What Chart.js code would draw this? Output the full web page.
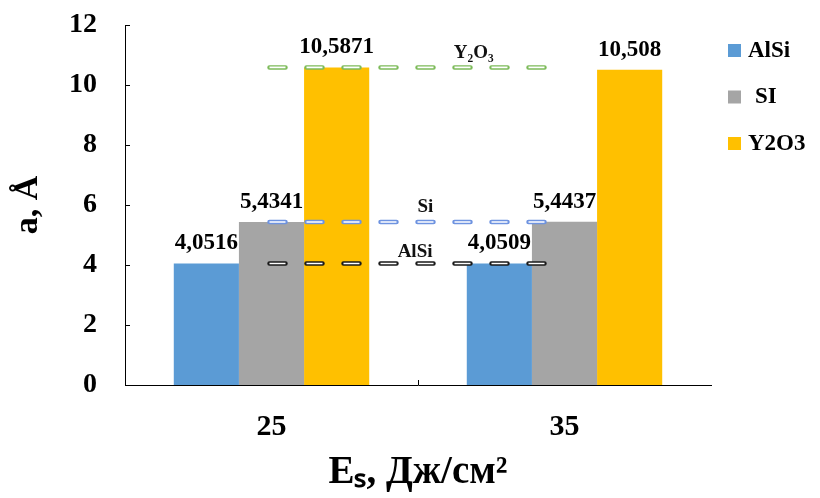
<!DOCTYPE html>
<html>
<head>
<meta charset="utf-8">
<script src="https://cdn.jsdelivr.net/npm/chart.js@4.4.0/dist/chart.umd.min.js"></script>
<style>
    html, body { margin: 0; padding: 0; background: #ffffff; }
    #wrap { width: 820px; height: 498px; }
</style>
</head>
<body>
<div id="wrap"><canvas id="chart" width="820" height="498"></canvas></div>
<script>
const categories = ['25', '35'];
const seriesNames = ['AlSi', 'SI', 'Y2O3'];
const alsiValues = [4.0516, 4.0509];
const siValues = [5.4341, 5.4437];
const y2o3Values = [10.5871, 10.508];
const seriesColors = ['#5B9BD5', '#A5A5A5', '#FFC000'];

// reference levels (dashed lines) and their labels
const refNames = ['Y\u2082O\u2083', 'Si', 'AlSi'];
const refValues = [10.5871, 5.4341, 4.0516];
const refColors = ['#7DBB5A', '#6E93E0', '#1a1a1a'];

const serif = "'Liberation Serif', 'Times New Roman', serif";

const fmt = v => String(v).replace('.', ',');

const extras = {
    id: 'extras',
    afterDatasetsDraw(chart) {
        const ctx = chart.ctx;
        const x = chart.scales.x;
        const y = chart.scales.y;
        const area = chart.chartArea;

        // inner tick marks
        ctx.save();
        ctx.strokeStyle = '#000';
        ctx.lineWidth = 1;
        y.ticks.forEach((t, i) => {
            const py = Math.round(y.getPixelForTick(i)) + 0.5;
            ctx.beginPath();
            ctx.moveTo(area.left, py);
            ctx.lineTo(area.left + 5, py);
            ctx.stroke();
        });
        const mid = Math.round((x.getPixelForValue(0) + x.getPixelForValue(1)) / 2) + 0.5;
        ctx.beginPath();
        ctx.moveTo(mid, area.bottom);
        ctx.lineTo(mid, area.bottom - 5);
        ctx.stroke();
        ctx.restore();

        // value labels over bars
        ctx.save();
        ctx.font = 'bold 23px ' + serif;
        ctx.fillStyle = '#000';
        ctx.textAlign = 'center';
        ctx.textBaseline = 'alphabetic';
        chart.data.datasets.forEach((ds, di) => {
            const meta = chart.getDatasetMeta(di);
            meta.data.forEach((bar, i) => {
                ctx.fillText(fmt(ds.data[i]), bar.x, bar.y - 14);
            });
        });
        ctx.restore();

        // dashed reference lines
        const x0 = x.getPixelForValue(0);
        const x1 = x.getPixelForValue(1);
        const start = x0 - 2;
        const end = x0 + 0.95 * (x1 - x0);
        const labelPos = [0.69, 0.525, 0.49];
        const labelLift = [9, 10, 6];
        refValues.forEach((v, i) => {
            const py = y.getPixelForValue(v);
            ctx.save();
            ctx.setLineDash([16, 21]);
            ctx.lineCap = 'round';
            ctx.strokeStyle = refColors[i];
            ctx.lineWidth = 4.5;
            ctx.beginPath();
            ctx.moveTo(start, py);
            ctx.lineTo(end, py);
            ctx.stroke();
            ctx.lineCap = 'butt';
            ctx.strokeStyle = '#ffffff';
            ctx.lineWidth = 1.6;
            ctx.beginPath();
            ctx.moveTo(start, py);
            ctx.lineTo(end, py);
            ctx.stroke();
            ctx.restore();

            ctx.save();
            ctx.font = 'bold 19px ' + serif;
            ctx.fillStyle = '#111';
            ctx.textAlign = 'center';
            ctx.fillText(refNames[i], x0 + labelPos[i] * (x1 - x0), py - labelLift[i]);
            ctx.restore();
        });

        // legend
        ctx.save();
        ctx.font = 'bold 23px ' + serif;
        ctx.textBaseline = 'middle';
        ctx.textAlign = 'left';
        chart.data.datasets.forEach((ds, i) => {
            const cy = 50 + i * 46.5;
            ctx.fillStyle = ds.backgroundColor;
            ctx.fillRect(728, cy - 6, 13, 13);
            ctx.fillStyle = '#000';
            ctx.fillText(ds.label, i === 1 ? 755 : 748, cy + 1);
        });
        ctx.restore();
    }
};

const datasets = [alsiValues, siValues, y2o3Values].map((vals, i) => ({
    label: seriesNames[i],
    data: vals,
    backgroundColor: seriesColors[i],
    borderWidth: 0,
    categoryPercentage: 0.667,
    barPercentage: 1.0
}));

new Chart(document.getElementById('chart'), {
    type: 'bar',
    data: {
        labels: categories,
        datasets: datasets
    },
    options: {
        responsive: false,
        animation: false,
        layout: {
            padding: { left: 0, right: 109, top: 25, bottom: 0 }
        },
        plugins: {
            legend: { display: false },
            tooltip: { enabled: false }
        },
        scales: {
            x: {
                grid: { display: false, drawTicks: false },
                border: { display: true, color: '#000', width: 1 },
                ticks: {
                    color: '#000',
                    padding: 24,
                    font: { family: serif, size: 30, weight: 'bold' }
                },
                title: {
                    display: true,
                    text: 'E\u209B, Дж/см\u00B2',
                    color: '#000',
                    padding: { top: 0, bottom: 2 },
                    font: { family: serif, size: 39, weight: 'bold' }
                },
                afterFit(scale) {
                    scale.height = 113;
                    scale.paddingLeft = 0;
                    scale.paddingRight = 0;
                }
            },
            y: {
                min: 0,
                max: 12,
                ticks: {
                    stepSize: 2,
                    color: '#000',
                    padding: 28,
                    font: { family: serif, size: 28, weight: 'bold' }
                },
                grid: { display: false, drawTicks: false },
                border: { display: true, color: '#000', width: 1 },
                title: {
                    display: true,
                    text: 'a, Å',
                    color: '#000',
                    padding: { top: 8, bottom: 0 },
                    font: { family: serif, size: 34, weight: 'bold' }
                },
                afterFit(scale) {
                    scale.width = 125;
                    scale.paddingTop = 0;
                    scale.paddingBottom = 0;
                }
            }
        }
    },
    plugins: [extras]
});
</script>
</body>
</html>
